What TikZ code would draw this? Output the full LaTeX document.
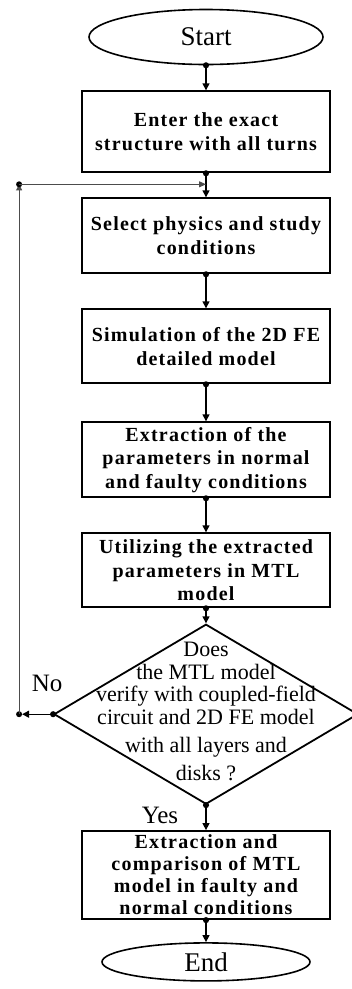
\documentclass[tikz,border=0pt]{standalone}
\usepackage{fontspec}
\setmainfont{Liberation Serif}
\newfontfamily\boxfont[LetterSpace=6]{Liberation Serif}
\usetikzlibrary{shapes.geometric,arrows.meta,positioning}

\tikzset{
    terminal/.style={draw,ellipse,line width=1.6pt,inner sep=0pt,font=\fontsize{27}{30}\selectfont},
    process/.style={draw,rectangle,line width=2pt,minimum width=248pt,inner sep=1pt,align=center,
        font=\boxfont\bfseries\fontsize{20}{23.5}\selectfont},
    decision/.style={draw,diamond,line width=1.8pt,minimum width=304pt,minimum height=180pt,inner sep=0pt},
    dtext/.style={align=center,inner sep=0pt,font=\fontsize{22}{22.7}\selectfont},
    flow/.style={line width=1.4pt,{Circle[length=6pt]}-{Triangle[length=7pt,width=7pt]},shorten <=-3pt},
    loopline/.style={line width=1pt,black!70},
    answer/.style={font=\fontsize{25}{28}\selectfont},
}

\begin{document}
\begin{tikzpicture}[x=1pt,y=1pt]
    \useasboundingbox (0,0) rectangle (352,-989);

    \node[terminal,minimum width=234pt,minimum height=55pt] (start) at (206,-37) {Start};
    \node[process,minimum height=81pt,below=25pt of start] (enter) {Enter the exact\\structure with all turns};
    \node[process,minimum height=75pt,below=24pt of enter] (physics) {Select physics and study\\conditions};
    \node[process,minimum height=74pt,below=34pt of physics] (simul) {Simulation of the 2D FE\\detailed model};
    \node[process,minimum height=75pt,below=37pt of simul] (extract) {Extraction of the\\parameters in normal\\and faulty conditions};
    \node[process,minimum height=74pt,below=34pt of extract] (utilize) {Utilizing the extracted\\parameters in MTL\\model};
    \node[decision,below=15pt of utilize] (verify) {};
    \node[dtext] (verifytxt) at ([yshift=3pt]verify.center) {Does\\the MTL model\\verify with coupled-field\\circuit and 2D FE model\\[5pt]with all layers and\\[5pt]disks ?};
    \node[process,minimum height=88pt,below=25pt of verify,
        font=\boxfont\bfseries\fontsize{20}{22}\selectfont] (compare) {Extraction and\\comparison of MTL\\model in faulty and\\normal conditions};
    \node[terminal,minimum width=208pt,minimum height=38pt,below=22pt of compare] (stop) {End};

    \node[answer] (nolbl) at ([xshift=-6pt,yshift=31pt]verify.west) {No};
    \node[answer] (yeslbl) at ([xshift=-46pt,yshift=-10pt]verify.south) {Yes};

    \draw[flow] (start) -- (enter);
    \draw[flow] (enter) -- (physics);
    \draw[flow] (physics) -- (simul);
    \draw[flow] (simul) -- (extract);
    \draw[flow] (extract) -- (utilize);
    \draw[flow] (utilize) -- (verify);
    \draw[flow] (verify) -- (compare);
    \draw[flow] (compare) -- (stop);

    % feedback when the model does not verify
    \coordinate[left=34pt of verify.west] (nojoin);
    \coordinate[below=11pt of enter.south] (merge);
    \coordinate (loopjoin) at (nojoin |- merge);
    \draw[flow,shorten >=3pt] (verify.west) -- (nojoin);
    \fill (nojoin) circle (3pt);
    \draw[loopline,-{Triangle[length=6pt,width=6pt]}] (nojoin) -- (loopjoin);
    \fill (loopjoin) circle (3pt);
    \draw[loopline,-{Triangle[length=7pt,width=6pt]}] (loopjoin) -- (merge);
\end{tikzpicture}
\end{document}
